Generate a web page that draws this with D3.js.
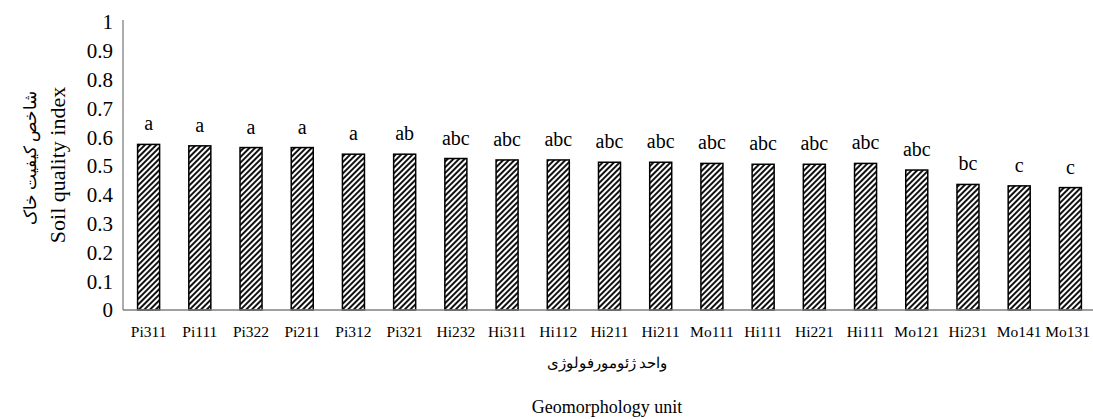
<!DOCTYPE html>
<html>
<head>
<meta charset="utf-8">
<script src="https://cdn.jsdelivr.net/npm/d3@7"></script>
<style>
  body { margin: 0; background: #fff; }
  text { font-family: "Liberation Serif", "DejaVu Serif", serif; fill: #000; }
</style>
</head>
<body>
<svg id="chart" width="1093" height="419"></svg>
<script>
const units = ['Pi311', 'Pi111', 'Pi322', 'Pi211', 'Pi312', 'Pi321', 'Hi232', 'Hi311', 'Hi112', 'Hi211',
  'Hi211', 'Mo111', 'Hi111', 'Hi221', 'Hi111', 'Mo121', 'Hi231', 'Mo141', 'Mo131'];
const sqi = [0.575, 0.570, 0.564, 0.564, 0.541, 0.541, 0.526, 0.521, 0.521, 0.513,
  0.513, 0.509, 0.506, 0.506, 0.509, 0.486, 0.436, 0.431, 0.425];
const groups = ['a', 'a', 'a', 'a', 'a', 'ab', 'abc', 'abc', 'abc', 'abc',
  'abc', 'abc', 'abc', 'abc', 'abc', 'abc', 'bc', 'c', 'c'];
const yTicks = [0, 0.1, 0.2, 0.3, 0.4, 0.5, 0.6, 0.7, 0.8, 0.9, 1];

const margin = {top: 22, right: 0, bottom: 109, left: 123};
const W = 1093, H = 419;

const svg = d3.select('#chart');

// hatch fill
const pat = svg.append('defs').append('pattern')
  .attr('id', 'hatch')
  .attr('patternUnits', 'userSpaceOnUse')
  .attr('width', 4).attr('height', 4)
  .attr('patternTransform', 'rotate(45)');
pat.append('rect').attr('width', 4).attr('height', 4).attr('fill', '#fff');
pat.append('rect').attr('width', 2).attr('height', 4).attr('fill', '#111');

const x = d3.scaleBand()
  .domain(d3.range(units.length))
  .range([margin.left, W - margin.right + 3])
  .paddingInner(0.57)
  .paddingOuter(0.285);

const y = d3.scaleLinear()
  .domain([0, 1])
  .range([H - margin.bottom, margin.top]);

// y axis: line + labels, no ticks
svg.append('line')
  .attr('x1', margin.left).attr('x2', margin.left)
  .attr('y1', y(1) - 2).attr('y2', y(0))
  .attr('stroke', '#808080').attr('stroke-width', 1.3);

svg.selectAll('.ytick')
  .data(yTicks)
  .enter().append('text')
  .attr('class', 'ytick')
  .attr('x', margin.left - 10)
  .attr('y', d => y(d))
  .attr('dy', '0.35em')
  .attr('text-anchor', 'end')
  .attr('font-size', 21)
  .text(d => d);

svg.selectAll('.bar')
  .data(sqi)
  .enter().append('rect')
  .attr('class', 'bar')
  .attr('x', (d, i) => x(i))
  .attr('width', x.bandwidth())
  .attr('y', d => y(d))
  .attr('height', d => y(0) - y(d))
  .attr('fill', 'url(#hatch)')
  .attr('stroke', '#000')
  .attr('stroke-width', 1.5);

svg.selectAll('.grp')
  .data(groups)
  .enter().append('text')
  .attr('class', 'grp')
  .attr('x', (d, i) => x(i) + x.bandwidth() / 2)
  .attr('y', (d, i) => y(sqi[i]) - 14)
  .attr('text-anchor', 'middle')
  .attr('font-size', 20)
  .text(d => d);

// x axis line
svg.append('line')
  .attr('x1', margin.left).attr('x2', W)
  .attr('y1', y(0)).attr('y2', y(0))
  .attr('stroke', '#808080').attr('stroke-width', 1.3);

svg.selectAll('.xlab')
  .data(units)
  .enter().append('text')
  .attr('class', 'xlab')
  .attr('x', (d, i) => x(i) + x.bandwidth() / 2)
  .attr('y', y(0) + 27)
  .attr('text-anchor', 'middle')
  .attr('font-size', 15.5)
  .text(d => d)
  .each(function () {
    // keep the last label inside the frame
    const w = this.getComputedTextLength();
    const cx = +this.getAttribute('x');
    if (cx + w / 2 > W - 3) this.setAttribute('x', W - 3 - w / 2);
  });

// axis titles
svg.append('text')
  .attr('x', 607).attr('y', 368)
  .attr('text-anchor', 'middle')
  .attr('font-size', 15)
  .attr('direction', 'rtl')
  .text('واحد ژئومورفولوژی');

svg.append('text')
  .attr('x', 607).attr('y', 413)
  .attr('text-anchor', 'middle')
  .attr('font-size', 18)
  .text('Geomorphology unit');

svg.append('text')
  .attr('transform', 'translate(36,158) rotate(-90)')
  .attr('text-anchor', 'middle')
  .attr('font-size', 16.5)
  .attr('fill', '#666')
  .attr('direction', 'rtl')
  .text('شاخص کیفیت خاک');

svg.append('text')
  .attr('transform', 'translate(65,165) rotate(-90)')
  .attr('text-anchor', 'middle')
  .attr('font-size', 22)
  .text('Soil quality index');
</script>
</body>
</html>
